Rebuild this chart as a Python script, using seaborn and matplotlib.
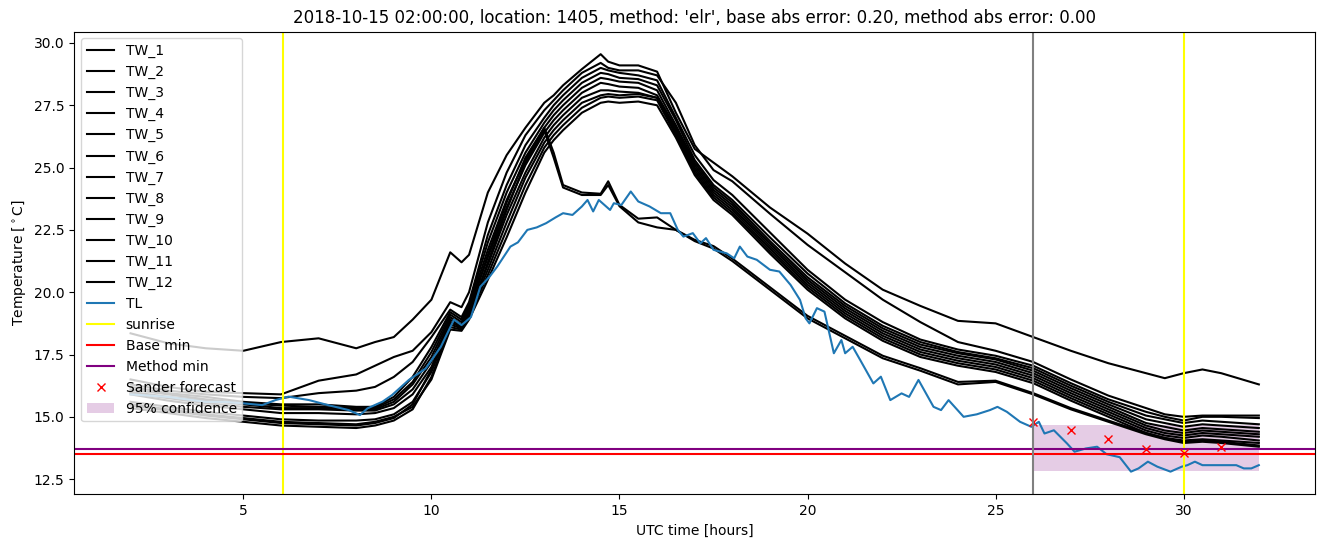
import matplotlib
matplotlib.use("Agg")
import matplotlib.pyplot as plt
import seaborn as sns

# ---------------- data ----------------
hours = [2, 3, 4, 5, 6, 7, 8, 8.5, 9, 9.5, 10, 10.5, 10.8, 11, 11.5, 12, 12.5, 13, 13.25, 13.5,
         14, 14.5, 14.7, 15, 15.5, 16, 16.5, 17, 17.5, 18, 19, 20, 21, 22, 23, 24, 25, 26, 27, 28,
         29, 29.5, 30, 30.5, 31, 32]

tw_1 = [18.35, 17.95, 17.75, 17.65, 18.0, 18.15, 17.75, 18.0, 18.2, 18.9, 19.7, 21.6, 21.2, 21.5, 24.0,
        25.5, 26.6, 27.6, 27.9, 28.3, 28.95, 29.55, 29.25, 29.1, 29.1, 28.85, 27.2, 25.75, 25.2, 24.65,
        23.4, 22.35, 21.15, 20.1, 19.45, 18.85, 18.75, 18.2, 17.65, 17.15, 16.75, 16.55, 16.75, 16.9, 16.75, 16.3]
tw_2 = [16.5, 16.2, 16.0, 15.95, 15.9, 16.45, 16.7, 17.05, 17.4, 17.65, 18.4, 19.6, 19.4, 20.0, 22.8,
        24.8, 26.3, 27.3, 27.7, 28.1, 28.8, 29.2, 29.0, 28.9, 28.9, 28.7, 27.6, 25.9, 24.9, 24.45,
        23.15, 21.9, 20.8, 19.7, 18.8, 18.0, 17.65, 17.2, 16.5, 15.85, 15.35, 15.1, 15.0, 15.05, 15.05, 15.05]
tw_3 = [16.3, 16.05, 15.9, 15.8, 15.75, 15.95, 16.05, 16.2, 16.6, 17.2, 18.2, 19.3, 19.0, 19.6, 22.3,
        24.3, 25.9, 27.0, 27.5, 27.9, 28.6, 29.0, 28.9, 28.8, 28.7, 28.5, 27.0, 25.5, 24.5, 23.9,
        22.4, 20.9, 19.7, 18.8, 18.1, 17.7, 17.45, 17.05, 16.35, 15.7, 15.2, 15.0, 14.85, 15.0, 15.0, 14.95]
tw_4 = [16.2, 15.95, 15.8, 15.6, 15.5, 15.5, 15.4, 15.4, 15.8, 16.6, 17.8, 19.2, 18.9, 19.5, 22.0,
        24.0, 25.6, 26.8, 27.3, 27.7, 28.4, 28.8, 28.75, 28.6, 28.55, 28.3, 26.9, 25.3, 24.3, 23.7,
        22.2, 20.75, 19.55, 18.65, 18.0, 17.6, 17.35, 16.95, 16.25, 15.6, 15.05, 14.9, 14.75, 14.85, 14.8, 14.7]
tw_5 = [16.1, 15.9, 15.7, 15.55, 15.45, 15.4, 15.35, 15.35, 15.7, 16.4, 17.6, 19.1, 18.8, 19.4, 21.7,
        23.7, 25.3, 26.6, 27.1, 27.5, 28.2, 28.6, 28.55, 28.45, 28.4, 28.1, 26.7, 25.2, 24.2, 23.6,
        22.05, 20.6, 19.45, 18.55, 17.9, 17.55, 17.3, 16.85, 16.15, 15.5, 14.9, 14.75, 14.6, 14.7, 14.65, 14.55]
tw_6 = [16.0, 15.8, 15.65, 15.5, 15.35, 15.35, 15.3, 15.3, 15.6, 16.3, 17.4, 19.0, 18.7, 19.3, 21.4,
        23.4, 25.1, 26.4, 26.9, 27.3, 28.0, 28.4, 28.35, 28.25, 28.2, 27.9, 26.6, 25.1, 24.1, 23.5,
        21.95, 20.5, 19.35, 18.45, 17.8, 17.45, 17.2, 16.75, 16.05, 15.4, 14.75, 14.6, 14.45, 14.55, 14.5, 14.4]
tw_7 = [15.95, 15.75, 15.55, 15.4, 15.3, 15.3, 15.25, 15.25, 15.5, 16.1, 17.2, 18.9, 18.65, 19.2, 21.1,
        23.1, 24.8, 26.2, 26.7, 27.1, 27.8, 28.1, 28.1, 28.05, 28.0, 27.8, 26.5, 25.0, 24.0, 23.4,
        21.85, 20.4, 19.25, 18.35, 17.7, 17.35, 17.1, 16.65, 15.95, 15.3, 14.65, 14.45, 14.35, 14.45, 14.4, 14.3]
tw_8 = [15.9, 15.65, 15.45, 15.3, 15.15, 15.15, 15.1, 15.15, 15.35, 15.9, 17.0, 18.8, 18.6, 19.1, 20.9,
        22.8, 24.6, 26.0, 26.5, 26.9, 27.6, 27.9, 27.95, 27.9, 27.95, 27.8, 26.4, 24.9, 23.9, 23.3,
        21.75, 20.3, 19.15, 18.25, 17.6, 17.25, 17.0, 16.55, 15.85, 15.2, 14.55, 14.35, 14.25, 14.35, 14.3, 14.2]
tw_9 = [15.6, 15.4, 15.2, 15.05, 14.9, 14.85, 14.85, 14.9, 15.1, 15.6, 16.8, 18.7, 18.55, 19.0, 20.7,
        22.5, 24.3, 25.8, 26.3, 26.7, 27.4, 27.8, 27.85, 27.8, 27.85, 27.7, 26.3, 24.8, 23.8, 23.2,
        21.65, 20.2, 19.05, 18.15, 17.5, 17.15, 16.9, 16.45, 15.75, 15.1, 14.45, 14.25, 14.15, 14.25, 14.2, 14.05]
tw_10 = [15.5, 15.3, 15.1, 14.95, 14.8, 14.75, 14.7, 14.8, 15.0, 15.4, 16.5, 18.5, 18.45, 18.9, 20.5,
         22.2, 24.0, 25.6, 26.1, 26.5, 27.2, 27.6, 27.65, 27.6, 27.65, 27.5, 26.2, 24.7, 23.7, 23.1,
         21.55, 20.1, 18.95, 18.05, 17.4, 17.05, 16.8, 16.35, 15.65, 15.0, 14.35, 14.15, 14.05, 14.1, 14.05, 13.95]
tw_11 = [15.45, 15.25, 15.05, 14.9, 14.75, 14.7, 14.65, 14.75, 14.95, 15.5, 16.9, 18.8, 18.6, 19.2, 21.5,
         23.6, 25.4, 26.6, 25.6, 24.3, 24.0, 23.95, 24.45, 23.5, 22.95, 23.0, 22.5, 22.1, 21.85, 21.35,
         20.2, 19.05, 18.25, 17.45, 16.95, 16.4, 16.45, 15.95, 15.35, 14.85, 14.35, 14.15, 14.0, 14.05, 14.0, 13.85]
tw_12 = [15.35, 15.15, 14.95, 14.8, 14.65, 14.6, 14.55, 14.65, 14.85, 15.3, 16.6, 18.6, 18.5, 19.0, 21.2,
         23.3, 25.2, 26.5, 25.4, 24.2, 23.9, 23.9, 24.3, 23.45, 22.8, 22.6, 22.5, 22.05, 21.75, 21.25,
         20.1, 18.95, 18.15, 17.35, 16.85, 16.3, 16.4, 15.9, 15.3, 14.8, 14.3, 14.1, 13.95, 14.0, 13.95, 13.8]

tl_hours = [2, 2.5, 3, 3.5, 4, 4.5, 5, 5.5, 5.85, 6.2, 6.75, 7.25, 7.8, 8.1, 8.3, 8.7, 8.95, 9.4, 9.85,
            10.25, 10.6, 10.8, 11.05, 11.3, 11.55, 11.75, 12.1, 12.3, 12.55, 12.8, 13.05, 13.3, 13.5,
            13.75, 14.0, 14.15, 14.3, 14.45, 14.75, 14.85, 15.05, 15.3, 15.5, 15.8, 16.1, 16.35, 16.55,
            16.7, 16.95, 17.15, 17.3, 17.5, 17.85, 18.05, 18.2, 18.4, 18.65, 19.0, 19.25, 19.55, 19.8,
            19.95, 20.05, 20.25, 20.45, 20.7, 20.9, 21.0, 21.2, 21.4, 21.75, 21.95, 22.2, 22.5, 22.7,
            22.95, 23.35, 23.55, 23.75, 24.15, 24.5, 24.85, 25.05, 25.3, 25.65, 25.95, 26.15, 26.3,
            26.55, 26.9, 27.1, 27.4, 27.7, 27.95, 28.3, 28.6, 28.8, 29.05, 29.3, 29.65, 29.95, 30.1,
            30.3, 30.5, 31.4, 31.6, 31.8, 32]
tl_values = [15.9, 15.85, 15.8, 15.7, 15.6, 15.6, 15.54, 15.47, 15.67, 15.81, 15.67, 15.47, 15.27, 15.07,
             15.34, 15.61, 15.87, 16.48, 16.94, 17.81, 18.9, 18.68, 19.0, 20.22, 20.63, 21.03, 21.83,
             22.0, 22.5, 22.6, 22.77, 23.0, 23.17, 23.1, 23.44, 23.7, 23.24, 23.7, 23.3, 23.57, 23.5,
             24.04, 23.64, 23.44, 23.17, 23.17, 22.5, 22.23, 22.37, 21.96, 22.17, 21.7, 21.56, 21.36,
             21.83, 21.43, 21.3, 20.9, 20.83, 20.29, 19.69, 18.95, 18.75, 19.36, 19.22, 17.55, 18.08,
             17.55, 17.81, 17.28, 16.34, 16.61, 15.67, 15.94, 15.8, 16.48, 15.4, 15.27, 15.67, 15.0,
             15.1, 15.27, 15.4, 15.2, 14.8, 14.6, 14.8, 14.33, 14.46, 13.93, 13.6, 13.73, 13.8, 13.5,
             13.38, 12.8, 12.93, 13.2, 13.0, 12.8, 13.0, 13.06, 13.2, 13.06, 13.06, 12.93, 12.93, 13.06]

sunrise_hours = [6.05, 30.0]
forecast_hour = 26.0
base_min = 13.52
method_min = 13.72
sander_hours = [26, 27, 28, 29, 30, 31]
sander_values = [14.8, 14.49, 14.09, 13.70, 13.56, 13.77]
conf_hours = [26, 32]
conf_low = [12.83, 12.83]
conf_high = [14.67, 14.67]

title = ("2018-10-15 02:00:00, location: 1405, method: 'elr', "
         "base abs error: 0.20, method abs error: 0.00")

tw_series = [tw_1, tw_2, tw_3, tw_4, tw_5, tw_6, tw_7, tw_8, tw_9, tw_10, tw_11, tw_12]

# ---------------- plot ----------------
fig, ax = plt.subplots(figsize=(13.24, 5.47), dpi=100)
fig.subplots_adjust(left=0.056, right=0.9934, top=0.9424, bottom=0.0963)

for i, vals in enumerate(tw_series, start=1):
    sns.lineplot(x=hours, y=vals, color="black", linewidth=1.5, label=f"TW_{i}", ax=ax)
sns.lineplot(x=tl_hours, y=tl_values, color="#1f77b4", linewidth=1.5, label="TL", ax=ax)

for k, s in enumerate(sunrise_hours):
    ax.axvline(s, color="yellow", linewidth=1.5, label="sunrise" if k == 0 else "_nolegend_")
ax.axhline(base_min, color="red", linewidth=1.5, label="Base min")
ax.axhline(method_min, color="purple", linewidth=1.5, label="Method min")
ax.plot(sander_hours, sander_values, "x", color="red", markersize=6, label="Sander forecast")
ax.fill_between(conf_hours, conf_low, conf_high, color="purple", alpha=0.2, linewidth=0,
                label="95% confidence")
ax.axvline(forecast_hour, color="grey", linewidth=1.5, label="_nolegend_")

ax.set_xlim(0.5, 33.5)
ax.set_ylim(11.89, 30.46)
ax.set_title(title)
ax.set_xlabel("UTC time [hours]")
ax.set_ylabel("Temperature [$^\\circ$C]")
ax.legend(loc="upper left")

fig.savefig("out.png", dpi=100)
